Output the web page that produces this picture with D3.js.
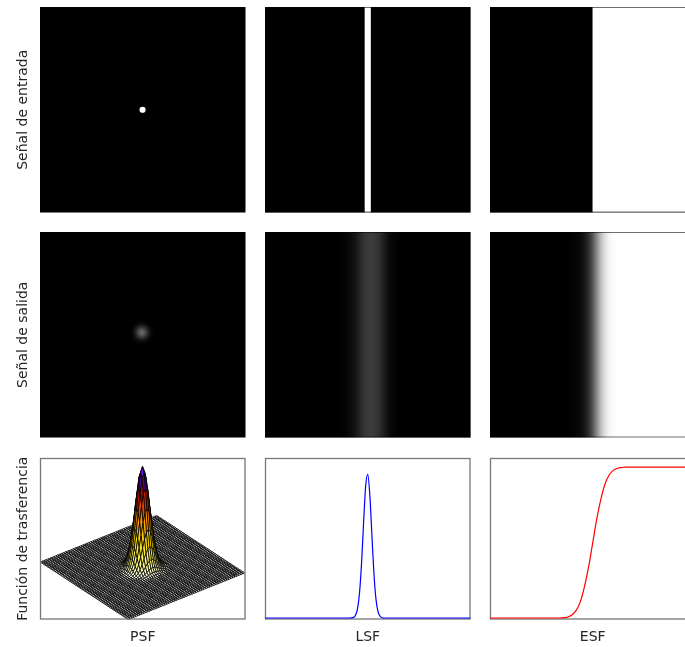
<!DOCTYPE html>
<html>
<head>
<meta charset="utf-8">
<script src="https://cdn.jsdelivr.net/npm/d3@7"></script>
<style>
  body { margin: 0; background: #fff; }
  text { font-family: "DejaVu Sans", sans-serif; font-size: 14px; fill: #262626; }
</style>
</head>
<body>
<div id="fig"></div>
<script>
// ---- data ----
const rowLabels = ["Señal de entrada", "Señal de salida", "Función de trasferencia"];
const colLabels = ["PSF", "LSF", "ESF"];

// input signals, image coords 0..100
const pointIn = [49.9, 50.0];
const pointInRadius = 1.5;
const lineIn = [48.5, 51.5];
const edgeIn = 49.9;

// output images, gray level 0..255
const psfOutCenter = [49.6, 48.9];
const psfOutR = [0, 1, 2, 3, 4, 5, 6];
const psfOutGray = [105, 92, 66, 38, 17, 5, 0];

const lineOutX = [36, 38, 40, 42, 44, 46, 48, 50, 51.5, 53, 55, 57, 59, 61, 63, 65];
const lineOutGray = [0, 2, 6, 12, 22, 36, 50, 58, 60, 58, 50, 36, 20, 8, 3, 0];

const edgeOutX = [38, 40, 42, 44, 46, 48, 50, 52, 54, 56, 58, 60, 62];
const edgeOutGray = [0, 2, 5, 10, 22, 45, 85, 140, 190, 225, 245, 252, 255];

// transfer functions
const psfProfile = [
  0, 0, 0, 0, 0, 0, 0, 0, 0, 0, 0, 0, 0, 0, 0, 0, 0, 0,
  0.0003, 0.0012, 0.0039, 0.0111, 0.0286, 0.0657, 0.1353, 0.2494, 0.411, 0.6065, 0.801, 0.946,
  1,
  0.946, 0.801, 0.6065, 0.411, 0.2494, 0.1353, 0.0657, 0.0286, 0.0111, 0.0039, 0.0012, 0.0003,
  0, 0, 0, 0, 0, 0, 0, 0, 0, 0, 0, 0, 0, 0, 0, 0, 0, 0
];
const meshStops = [0, 0.08, 0.3, 0.5, 0.66, 0.8, 0.87, 1];
const meshColors = ["#ffffff", "#ffff90", "#ffe000", "#ff9000", "#f02800", "#700018", "#5a00d0", "#8020ff"];

const lsfX = [0, 40, 41, 42, 43, 44, 45, 46, 47, 48, 49, 50, 51, 52, 53, 54, 55, 56, 57, 58, 59, 60, 100];
const lsfY = [0, 0, 0, 0.001, 0.004, 0.018, 0.063, 0.175, 0.384, 0.668, 0.918, 0.997, 0.856, 0.58, 0.311, 0.131, 0.044, 0.012, 0.002, 0, 0, 0, 0];

const esfX = [0, 34, 36, 38, 40, 42, 44, 46, 48, 50, 52, 54, 56, 58, 60, 62, 64, 66, 100];
const esfY = [0, 0, 0.002, 0.007, 0.021, 0.052, 0.11, 0.21, 0.34, 0.5, 0.66, 0.79, 0.89, 0.948, 0.979, 0.993, 0.998, 1, 1];

// ---- layout ----
const W = 685, H = 647;
const colX = [40, 265, 490];
const rowY = [7, 232, 458];
const pw = 205.5, imgH = 205.5, plotH = 161.5;

const svg = d3.select("#fig").append("svg")
    .attr("width", W).attr("height", H);
const defs = svg.append("defs");

const gray = g => d3.rgb(g, g, g).toString();

function imgScales(c, r) {
  return {
    x: d3.scaleLinear().domain([0, 100]).range([colX[c], colX[c] + pw]),
    y: d3.scaleLinear().domain([0, 100]).range([rowY[r], rowY[r] + imgH])
  };
}

function imgFrame(c, r) {
  // gray frame, multiplied so it only shows on the light parts
  svg.append("rect")
      .attr("x", colX[c] + 0.5).attr("y", rowY[r] + 0.5)
      .attr("width", pw - 1).attr("height", imgH - 1)
      .attr("fill", "none").attr("stroke", "#6e6e6e")
      .style("mix-blend-mode", "multiply");
}

function blackImg(c, r) {
  return svg.append("rect")
      .attr("x", colX[c]).attr("y", rowY[r])
      .attr("width", pw).attr("height", imgH)
      .attr("fill", "#000");
}

// row 1: inputs
{
  const s = imgScales(0, 0);
  blackImg(0, 0);
  svg.append("circle")
      .attr("cx", s.x(pointIn[0])).attr("cy", s.y(pointIn[1]))
      .attr("r", s.x(pointInRadius) - s.x(0))
      .attr("fill", "#fff");
}
{
  const s = imgScales(1, 0);
  blackImg(1, 0);
  svg.append("rect")
      .attr("x", s.x(lineIn[0])).attr("y", rowY[0])
      .attr("width", s.x(lineIn[1]) - s.x(lineIn[0])).attr("height", imgH)
      .attr("fill", "#fff");
  imgFrame(1, 0);
}
{
  const s = imgScales(2, 0);
  blackImg(2, 0);
  svg.append("rect")
      .attr("x", s.x(edgeIn)).attr("y", rowY[0])
      .attr("width", s.x(100) - s.x(edgeIn)).attr("height", imgH)
      .attr("fill", "#fff");
  imgFrame(2, 0);
}

// row 2: outputs
{
  const s = imgScales(0, 1);
  blackImg(0, 1);
  const rMax = d3.max(psfOutR);
  const grad = defs.append("radialGradient").attr("id", "psfOut");
  grad.selectAll("stop").data(psfOutR).join("stop")
      .attr("offset", (d) => d / rMax)
      .attr("stop-color", (d, i) => gray(psfOutGray[i]));
  svg.append("circle")
      .attr("cx", s.x(psfOutCenter[0])).attr("cy", s.y(psfOutCenter[1]))
      .attr("r", s.x(rMax) - s.x(0))
      .attr("fill", "url(#psfOut)");
}
function linearImg(c, r, id, xs, gs) {
  const s = imgScales(c, r);
  const grad = defs.append("linearGradient").attr("id", id)
      .attr("gradientUnits", "userSpaceOnUse")
      .attr("x1", s.x(0)).attr("x2", s.x(100)).attr("y1", 0).attr("y2", 0);
  grad.selectAll("stop").data(xs).join("stop")
      .attr("offset", d => d / 100)
      .attr("stop-color", (d, i) => gray(gs[i]));
  svg.append("rect")
      .attr("x", colX[c]).attr("y", rowY[r])
      .attr("width", pw).attr("height", imgH)
      .attr("fill", `url(#${id})`);
  imgFrame(c, r);
}
linearImg(1, 1, "lineOut", lineOutX, lineOutGray);
linearImg(2, 1, "edgeOut", edgeOutX, edgeOutGray);

// row 3: transfer functions
function plotFrame(c) {
  svg.append("rect")
      .attr("x", colX[c] + 0.5).attr("y", rowY[2] + 0.5)
      .attr("width", pw - 1).attr("height", plotH - 1)
      .attr("fill", "none").attr("stroke", "#777").attr("stroke-width", 1.3);
}

// PSF mesh
{
  const N = psfProfile.length;
  const gi = d3.scaleLinear().domain([0, N - 1]).range([-1, 1]);
  const zPix = d3.scaleLinear().domain([0, 1]).range([0, 100.8]);
  const color = d3.scaleLinear().domain(meshStops).range(meshColors).clamp(true);
  const cx = 142.5, cy = 567.5;
  const ax = 44, ay = 28.75, bx = 58.2, by = -23.25;
  const proj = (i, j) => {
    const u = gi(i), v = gi(j), z = psfProfile[i] * psfProfile[j];
    return [cx + u * ax + v * bx, cy + u * ay + v * by - zPix(z)];
  };
  const cells = [];
  for (let i = 0; i < N - 1; i++) {
    for (let j = 0; j < N - 1; j++) {
      const zs = [psfProfile[i] * psfProfile[j], psfProfile[i + 1] * psfProfile[j],
                  psfProfile[i + 1] * psfProfile[j + 1], psfProfile[i] * psfProfile[j + 1]];
      cells.push({
        pts: [proj(i, j), proj(i + 1, j), proj(i + 1, j + 1), proj(i, j + 1)],
        z: d3.mean(zs),
        depth: gi(i + 0.5) * ay + gi(j + 0.5) * by
      });
    }
  }
  cells.sort((a, b) => a.depth - b.depth);
  svg.append("g").selectAll("path").data(cells).join("path")
      .attr("d", d => "M" + d.pts.map(p => p[0].toFixed(2) + "," + p[1].toFixed(2)).join("L") + "Z")
      .attr("fill", d => color(d.z))
      .attr("stroke", "#000")
      .attr("stroke-width", 0.8);
  plotFrame(0);
}

function curvePlot(c, xs, ys, yMax, stroke) {
  const x = d3.scaleLinear().domain([0, 100]).range([colX[c], colX[c] + pw]);
  const y = d3.scaleLinear().domain([0, yMax]).range([rowY[2] + plotH - 1.5, rowY[2]]);
  const line = d3.line()
      .x((d, i) => x(xs[i]))
      .y(d => y(d))
      .curve(d3.curveMonotoneX);
  plotFrame(c);
  svg.append("path")
      .datum(ys)
      .attr("d", line)
      .attr("fill", "none")
      .attr("stroke", stroke)
      .attr("stroke-width", 1.2);
}
curvePlot(1, lsfX, lsfY, 1.11, "#0000ff");
curvePlot(2, esfX, esfY, 1.061, "#ff0000");

// labels
rowLabels.forEach((t, r) => {
  const h = r < 2 ? imgH : plotH;
  svg.append("text")
      .attr("transform", `translate(27,${rowY[r] + h / 2}) rotate(-90)`)
      .attr("text-anchor", "middle")
      .text(t);
});
colLabels.forEach((t, c) => {
  svg.append("text")
      .attr("x", colX[c] + pw / 2)
      .attr("y", 641)
      .attr("text-anchor", "middle")
      .text(t);
});
</script>
</body>
</html>
